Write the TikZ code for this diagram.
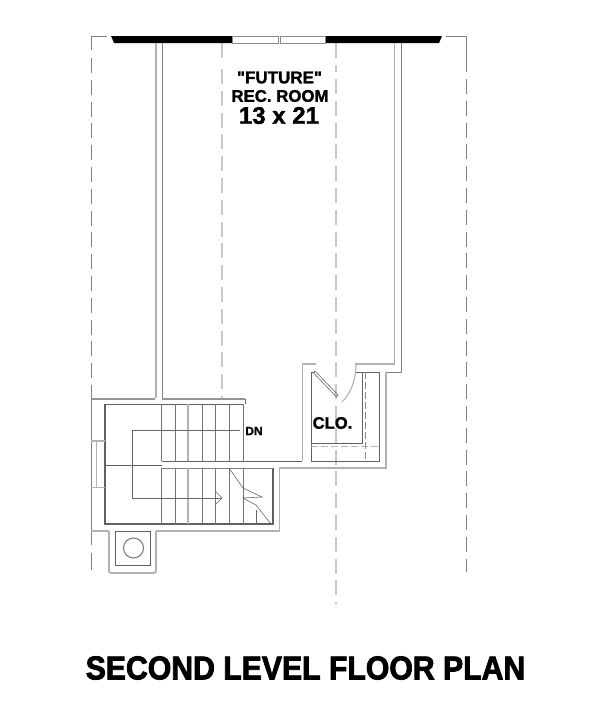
\documentclass[tikz,border=0pt]{standalone}
\usepackage{fontspec}
\setmainfont{Liberation Sans}
\newfontfamily\boldf[FakeBold=1.5]{Liberation Sans Bold}
\newfontfamily\titlef[FakeBold=2.5,FakeStretch=0.915]{Liberation Sans Bold}
\tikzset{
  wall/.style={draw=black!30,line width=1.9pt},
  thin wall/.style={draw=black!62,line width=.7pt},
  center/.style={draw=black!22,line width=1.5pt,dash pattern=on 15pt off 6.8pt},
  grid line/.style={draw=black!50,line width=.8pt,dash pattern=on 15pt off 6.8pt},
  tread/.style={draw=black!55,line width=.8pt},
  fine/.style={draw=black!60,line width=.6pt},
  label/.style={inner sep=0pt,text=black}
}
\begin{document}
\begin{tikzpicture}[x=1pt,y=-1pt]
\useasboundingbox (0,0) rectangle (600,720);
\fill[white] (0,0) rectangle (600,720);
% centre lines
\draw[grid line,dash pattern=] (107,36) -- (91,36) -- (91,50);
\draw[grid line] (91,58) -- (91,398);
\draw[grid line,dash pattern=] (91,398) -- (91,545) (91,553) -- (91,570);
\draw[center] (222,43) -- (222,62);
\draw[center] (222,69) -- (222,398);
\draw[center] (336,43) -- (336,72);
\draw[center] (336,79) -- (336,604);
\draw[grid line,dash pattern=] (446,36) -- (466,36) -- (466,72);
\draw[grid line] (466,79) -- (466,572);
% top wall
\fill[black] (111,36) -- (232,36) -- (232,43) -- (114,43) -- cycle;
\fill[black] (325,36) -- (442,36) -- (439,43) -- (325,43) -- cycle;
\draw[fine,draw=black!45] (232,36) rectangle (278,43) (280,36) rectangle (325,43);
% long walls
\draw[wall,line width=1.7pt] (156,43) -- (156,398);
\draw[thin wall,draw=black!50,line width=.9pt] (162,43) -- (162,398);
\draw[wall,line width=1.7pt] (394.5,43) -- (394.5,364) -- (355,364);
\draw[thin wall,draw=black!50,line width=.9pt] (401,43) -- (401,372) -- (386,372);
% top of stair
\draw[wall,draw=black!42] (91,399) -- (155,399);
\draw[wall,draw=black!42] (162,399) -- (245,399);
\draw[thin wall] (245.5,399) -- (245.5,404);
\draw[thin wall,line width=1pt] (105,404) -- (243,404) (243,404) -- (243,461);
\draw[thin wall,line width=1.1pt] (105,404) -- (105,524) -- (273,524) -- (273,468);
% landing
\draw[thin wall,line width=.9pt] (105,465) -- (162,465);
\draw[thin wall] (162,461) -- (302,461);
\draw[thin wall,draw=black!50] (162,468) -- (273,468);
% bottom walls
\draw[wall] (91,531) -- (109,531);
\draw[wall,rounded corners=2pt] (109,531) -- (109,573) -- (156,573) -- (156,531);
\draw[wall] (156,531) -- (279.5,531) -- (279.5,468) -- (386,468) -- (386,372);
% treads
\foreach \x in {161.5,175,202,215.5,229,243}{
  \draw[tread] (\x,404) -- (\x,461);
  \draw[tread] (\x,468) -- (\x,524);
}
\draw[wall,line width=2.4pt] (188,404) -- (188,461);
\draw[wall,line width=2.4pt] (188,468) -- (188,524);
\draw[fine] (256.5,510) -- (256.5,524);
% walk line
\draw[fine] (240,430) -- (132,430) -- (132,498) -- (222,498);
\draw[fine] (215,491) -- (222,498) -- (215,505);
% winders
\draw[fine] (229,468) -- (243,488) -- (262,497) -- (243,498) -- (256,505) -- (271,524);
% side window
\draw[wall,line width=1.2pt] (91,441) -- (105,441) (91,487.5) -- (105,487.5);
\draw[wall,line width=1.2pt] (96.7,441) -- (96.7,488);
% flue
\draw[thin wall] (115.5,531) rectangle (150.5,565);
\draw[draw=black!50,line width=1.1pt] (133.5,548) circle (10);
% closet
\draw[wall] (316,364) -- (302.5,364) -- (302.5,461);
\draw[thin wall] (311,372) -- (311,461) -- (379,461) -- (379,372) -- (356,372);
\draw[thin wall] (311,372) -- (315,372);
\draw[thin wall] (362,372) -- (362,443) -- (311,443);
\draw[fine,draw=black!45,dash pattern=on 7pt off 3pt] (365,372) -- (365,461);
\draw[wall,line width=.9pt,dash pattern=on 7pt off 3pt] (311,446.5) -- (379,446.5);
% door
\draw[fine] (315,371) -- (338,395) (313.5,373) -- (336.5,397) (338,395) -- (336.5,397) (315,371) -- (313.5,373);
\draw[wall,line width=1.1pt] (356,364) .. controls (356,380) and (351,393) .. (342,402);
% text
\node[label,font=\boldf\fontsize{17}{17}\selectfont] (t1) at (279.5,77.5) {"FUTURE"};
\node[label,font=\boldf\fontsize{16.8}{17}\selectfont] (t2) at (280,96) {REC. ROOM};
\node[label,font=\boldf\fontsize{24}{24}\selectfont] (t3) at (279,115.5) {13 x 21};
\node[label,font=\boldf\fontsize{16.6}{17}\selectfont] (t4) at (332.5,423) {CLO.};
\node[label,font=\boldf\fontsize{12}{12}\selectfont] (t5) at (254,431) {DN};
\node[label,font=\titlef\fontsize{33}{33}\selectfont] (t6) at (305.5,668) {SECOND LEVEL FLOOR PLAN};
\end{tikzpicture}
\end{document}
